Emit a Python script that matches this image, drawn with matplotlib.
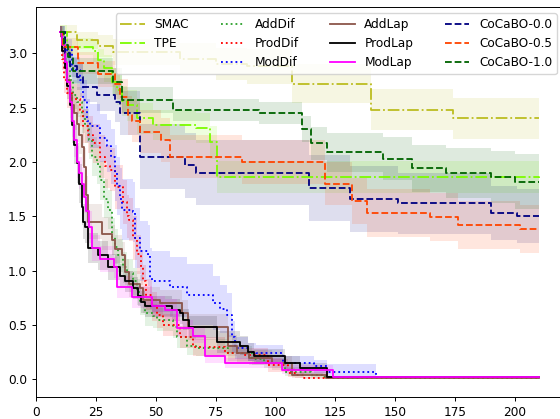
import numpy as np
import matplotlib
matplotlib.use("Agg")
from matplotlib import pyplot as plt
from matplotlib.lines import Line2D

# the reference looks like a default 6.4x4.8 figure shrunk to 560 px wide
k = 560 / 640
plt.rcParams["font.size"] = 10 * k
plt.rcParams["axes.linewidth"] = 0.8 * k
plt.rcParams["xtick.major.size"] = 3.5 * k
plt.rcParams["ytick.major.size"] = 3.5 * k
plt.rcParams["xtick.major.width"] = 0.8 * k
plt.rcParams["ytick.major.width"] = 0.8 * k
plt.rcParams["legend.fontsize"] = 10 * k

# step breakpoints (x), mean (y), half band width (e)
smac_x = [10, 17, 26, 32, 60, 75, 88, 107, 140, 174, 210]
smac_y = [3.20, 3.12, 3.07, 3.01, 2.95, 2.90, 2.88, 2.72, 2.48, 2.40, 2.40]
smac_e = [0.06, 0.08, 0.10, 0.12, 0.14, 0.15, 0.16, 0.18, 0.19, 0.19, 0.19]

tpe_x = [10, 13, 24, 26, 28.5, 31.7, 34, 36, 38, 42, 49, 67, 72.6, 75.5, 150, 210]
tpe_y = [3.20, 3.06, 3.02, 2.94, 2.86, 2.74, 2.66, 2.56, 2.52, 2.40, 2.34, 2.31, 2.18, 1.86, 1.86, 1.85]
tpe_e = [0.06, 0.08, 0.10, 0.10, 0.12, 0.12, 0.14, 0.14, 0.14, 0.14, 0.14, 0.14, 0.15, 0.15, 0.15, 0.15]

adddif_x = [10, 11, 12, 14, 15.5, 17, 19, 20.5, 22, 23.3, 25.4, 26.7, 28.3, 30, 31.6, 33, 34.3, 36.5,
            38, 40.6, 42, 43.4, 45.5, 49, 50.5, 57, 58.7, 63, 67, 80, 90, 95, 104, 115, 120, 210]
adddif_y = [3.20, 3.05, 2.92, 2.75, 2.62, 2.55, 2.42, 2.33, 2.20, 2.05, 1.98, 1.83, 1.66, 1.56, 1.31, 1.22, 1.14, 1.03,
            0.98, 0.90, 0.80, 0.71, 0.61, 0.58, 0.55, 0.48, 0.39, 0.31, 0.29, 0.24, 0.19, 0.15, 0.07, 0.04, 0.02, 0.02]
adddif_e = [0.05, 0.08, 0.10, 0.12, 0.13, 0.14, 0.15, 0.16, 0.17, 0.18, 0.18, 0.18, 0.18, 0.18, 0.17, 0.16, 0.15, 0.14,
            0.13, 0.12, 0.12, 0.12, 0.12, 0.11, 0.11, 0.10, 0.10, 0.09, 0.08, 0.07, 0.06, 0.05, 0.04, 0.02, 0.01, 0.01]

proddif_x = [10, 10.8, 11.5, 12.8, 15, 18.4, 19.6, 21.5, 23.9, 26.7, 29, 31, 33, 36.4, 37.9, 39, 40.6,
             42, 44, 44.7, 46, 48.4, 50.5, 53, 60, 65.5, 79, 87, 97, 105, 108, 112, 210]
proddif_y = [3.20, 2.95, 2.75, 2.63, 2.58, 2.48, 2.33, 2.25, 2.17, 2.05, 1.96, 1.93, 1.77, 1.63, 1.50, 1.47, 1.30,
             1.15, 1.03, 0.90, 0.78, 0.67, 0.59, 0.50, 0.39, 0.30, 0.24, 0.22, 0.13, 0.06, 0.04, 0.015, 0.015]
proddif_e = [0.05, 0.10, 0.12, 0.13, 0.14, 0.15, 0.16, 0.17, 0.18, 0.20, 0.20, 0.20, 0.20, 0.20, 0.20, 0.20, 0.20,
             0.18, 0.16, 0.15, 0.14, 0.13, 0.12, 0.10, 0.10, 0.09, 0.08, 0.07, 0.06, 0.04, 0.03, 0.01, 0.01]

moddif_x = [10, 12, 15, 18.4, 19.7, 21.3, 22.5, 26.7, 29.5, 31.5, 33, 34, 35, 36, 40.5, 41.3, 43.4,
            46.8, 47.6, 48.4, 56, 63, 74, 77, 79.6, 81.7, 83, 88.6, 92, 103, 116, 121.4, 142, 210]
moddif_y = [3.20, 3.03, 2.85, 2.75, 2.57, 2.38, 2.33, 2.22, 2.15, 2.05, 1.90, 1.78, 1.66, 1.56, 1.54, 1.30, 1.18,
            1.14, 0.93, 0.90, 0.85, 0.78, 0.70, 0.65, 0.59, 0.39, 0.29, 0.25, 0.24, 0.15, 0.12, 0.07, 0.02, 0.02]
moddif_e = [0.05, 0.10, 0.12, 0.15, 0.18, 0.20, 0.20, 0.22, 0.24, 0.25, 0.26, 0.27, 0.28, 0.28, 0.28, 0.28, 0.28,
            0.28, 0.28, 0.28, 0.28, 0.28, 0.25, 0.22, 0.20, 0.15, 0.10, 0.08, 0.08, 0.06, 0.06, 0.07, 0.01, 0.01]

addlap_x = [10, 11, 12, 13, 14, 15, 16, 17, 18, 19, 20, 21, 21.8, 27.5, 31.6, 33, 36, 37, 39, 43.4,
            44.7, 51.8, 61, 63.5, 80.3, 84, 89, 98.4, 107, 121, 210]
addlap_y = [3.20, 3.05, 2.90, 2.75, 2.62, 2.52, 2.45, 2.35, 2.25, 2.14, 1.95, 1.70, 1.45, 1.34, 1.28, 1.20, 1.14, 0.99, 0.88, 0.84,
            0.73, 0.70, 0.61, 0.48, 0.31, 0.24, 0.20, 0.15, 0.04, 0.015, 0.015]
addlap_e = [0.05, 0.08, 0.10, 0.12, 0.14, 0.15, 0.16, 0.17, 0.18, 0.18, 0.18, 0.17, 0.16, 0.15, 0.14, 0.13, 0.12, 0.12, 0.12, 0.12,
            0.12, 0.12, 0.12, 0.12, 0.10, 0.08, 0.07, 0.06, 0.03, 0.01, 0.01]

prodlap_x = [10, 11, 12, 13, 14, 15, 16, 17, 18, 19, 19.8, 20.5, 21.8, 26, 30, 35, 37, 40.6, 42.6, 44, 45.5,
             56.6, 60, 61.4, 64, 75.5, 85, 88.6, 91, 104, 110, 121.4, 210]
prodlap_y = [3.20, 3.02, 2.86, 2.70, 2.52, 2.34, 2.16, 1.99, 1.80, 1.59, 1.45, 1.40, 1.21, 1.14, 1.03, 0.95, 0.90, 0.84, 0.77, 0.71, 0.67,
             0.64, 0.61, 0.55, 0.48, 0.34, 0.31, 0.25, 0.21, 0.15, 0.10, 0.02, 0.02]
prodlap_e = [0.05, 0.08, 0.10, 0.12, 0.15, 0.17, 0.18, 0.18, 0.18, 0.17, 0.16, 0.15, 0.14, 0.13, 0.12, 0.11, 0.10, 0.10, 0.10, 0.10, 0.10,
             0.10, 0.10, 0.10, 0.10, 0.10, 0.09, 0.08, 0.07, 0.06, 0.05, 0.01, 0.01]

modlap_x = [10, 11, 12, 13, 14, 15, 16, 17, 18, 19, 20, 21, 22, 23.5, 26.7, 32.5, 33.7, 40, 48.5, 54,
            58.7, 65.5, 70.5, 79, 102.6, 124, 210]
modlap_y = [3.20, 3.08, 2.92, 2.74, 2.55, 2.38, 2.20, 2.00, 1.90, 1.80, 1.68, 1.55, 1.40, 1.21, 1.11, 1.03, 0.85, 0.76, 0.67, 0.64,
            0.47, 0.40, 0.21, 0.15, 0.09, 0.02, 0.02]
modlap_e = [0.05, 0.08, 0.10, 0.12, 0.15, 0.15, 0.15, 0.15, 0.15, 0.15, 0.15, 0.15, 0.15, 0.12, 0.12, 0.10, 0.10, 0.10, 0.10, 0.10,
            0.08, 0.07, 0.06, 0.05, 0.04, 0.01, 0.01]

cocabo00_x = [10, 12, 14, 17, 19.6, 25.4, 33, 35, 43.4, 62, 67, 114, 131, 151, 190, 201, 210]
cocabo00_y = [3.20, 3.00, 2.88, 2.78, 2.69, 2.62, 2.55, 2.45, 2.05, 1.97, 1.90, 1.76, 1.66, 1.62, 1.53, 1.50, 1.50]
cocabo00_e = [0.05, 0.08, 0.10, 0.12, 0.14, 0.15, 0.18, 0.20, 0.30, 0.30, 0.30, 0.30, 0.30, 0.28, 0.25, 0.25, 0.25]

cocabo05_x = [10, 11.4, 17.6, 26, 33, 35, 38.5, 40, 43.4, 52, 56, 86, 120.6, 132, 138, 164.5, 176, 202, 210]
cocabo05_y = [3.20, 3.06, 2.91, 2.81, 2.72, 2.60, 2.43, 2.38, 2.28, 2.20, 2.05, 2.00, 1.80, 1.64, 1.53, 1.49, 1.42, 1.38, 1.38]
cocabo05_e = [0.05, 0.08, 0.10, 0.12, 0.14, 0.16, 0.18, 0.20, 0.20, 0.20, 0.20, 0.20, 0.20, 0.21, 0.22, 0.22, 0.22, 0.22, 0.22]

cocabo10_x = [10, 11.5, 13.4, 15.4, 32, 36, 57, 93, 111, 115, 121.5, 145, 157, 171, 190, 200, 210]
cocabo10_y = [3.20, 3.08, 2.97, 2.84, 2.74, 2.57, 2.48, 2.45, 2.30, 2.17, 2.09, 2.03, 1.94, 1.90, 1.86, 1.82, 1.82]
cocabo10_e = [0.05, 0.08, 0.10, 0.12, 0.12, 0.12, 0.10, 0.10, 0.12, 0.15, 0.18, 0.20, 0.22, 0.23, 0.24, 0.25, 0.25]

labels = ["SMAC", "TPE", "AddDif", "ProdDif", "ModDif", "AddLap", "ProdLap", "ModLap",
          "CoCaBO-0.0", "CoCaBO-0.5", "CoCaBO-1.0"]

series = [
    (smac_x, smac_y, smac_e, "#bcbd22", "-."),
    (tpe_x, tpe_y, tpe_e, "#7cfc00", "-."),
    (adddif_x, adddif_y, adddif_e, "#2ca02c", ":"),
    (proddif_x, proddif_y, proddif_e, "red", ":"),
    (moddif_x, moddif_y, moddif_e, "blue", ":"),
    (addlap_x, addlap_y, addlap_e, "#8c564b", "-"),
    (prodlap_x, prodlap_y, prodlap_e, "black", "-"),
    (modlap_x, modlap_y, modlap_e, "magenta", "-"),
    (cocabo00_x, cocabo00_y, cocabo00_e, "navy", "--"),
    (cocabo05_x, cocabo05_y, cocabo05_e, "orangered", "--"),
    (cocabo10_x, cocabo10_y, cocabo10_e, "darkgreen", "--"),
]

fig = plt.figure(figsize=(5.6, 4.19), dpi=100)
ax = fig.add_axes([36 / 560, 22.3 / 419, 527 / 560, 389.4 / 419])

handles = []
for (x, y, e, c, ls), lab in zip(series, labels):
    x = np.array(x, dtype=float)
    y = np.array(y, dtype=float)
    e = np.array(e, dtype=float)
    ax.fill_between(x, y - e, y + e, step="post", color=c, alpha=0.13, lw=0)
    h, = ax.step(x, y, where="post", color=c, ls=ls, lw=1.5 * k, label=lab)
    handles.append(h)

# blank slot so the first legend column only holds SMAC and TPE
blank = Line2D([], [], alpha=0)
leg_h = handles[:2] + [blank] + handles[2:]
leg_l = labels[:2] + [" "] + labels[2:]
ax.legend(leg_h, leg_l, ncol=4, loc="upper right", columnspacing=2.6)

ax.set_xlim(0, 220)
ax.set_ylim(-0.16, 3.423)
ax.set_xticks(np.arange(0, 201, 25))
ax.set_yticks(np.arange(0, 3.01, 0.5))

fig.savefig("out.png", dpi=100)
